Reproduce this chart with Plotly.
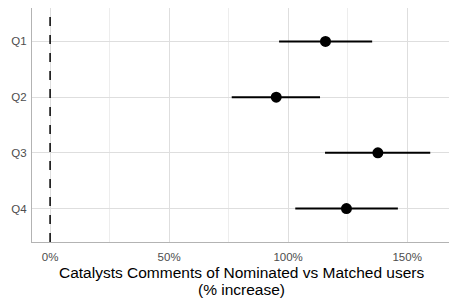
import plotly.graph_objects as go

categories = ["Q1", "Q2", "Q3", "Q4"]
estimate = [115.7, 95.0, 137.7, 124.5]
ci_low = [96.2, 76.3, 115.5, 103.0]
ci_high = [135.3, 113.4, 159.7, 146.1]
tick_vals = [0, 50, 100, 150]
tick_text = ["0%", "50%", "100%", "150%"]
title_lines = ["Catalysts Comments of Nominated vs Matched users", "(% increase)"]

fig = go.Figure()
fig.add_trace(go.Scatter(
    x=estimate, y=categories, mode="markers",
    marker=dict(color="black", size=11),
    error_x=dict(type="data", symmetric=False,
                 array=[h - e for h, e in zip(ci_high, estimate)],
                 arrayminus=[e - l for e, l in zip(estimate, ci_low)],
                 color="black", thickness=2, width=0),
    showlegend=False, cliponaxis=False,
))
fig.add_shape(type="line", xref="x", yref="paper", x0=0, x1=0, y0=0, y1=1,
              line=dict(color="black", width=1.5, dash="dash"))

for i, line in enumerate(title_lines):
    fig.add_annotation(text=line, xref="paper", yref="paper", x=0.5, y=0,
                       yshift=-30 - 17 * i, showarrow=False, xanchor="center", yanchor="middle",
                       font=dict(size=15.5, color="black"))

# page body has an 8px default margin; compensate
fig.update_layout(
    width=449, height=297,
    margin=dict(l=24, r=7, t=0, b=62.5, autoexpand=False),
    plot_bgcolor="white", paper_bgcolor="white",
    font=dict(family="Liberation Sans, Arial, sans-serif", color="black"),
    xaxis=dict(range=[-7.6, 168], tickvals=tick_vals, ticktext=tick_text,
               tickfont=dict(size=11.5, color="#4D4D4D"), automargin=False,
               showgrid=True, gridcolor="#DEDEDE", gridwidth=1,
               minor=dict(tickvals=[25, 75, 125], showgrid=True, gridcolor="#EDEDED", gridwidth=0.6),
               zeroline=False, showline=True, linecolor="#B3B3B3", mirror=True, linewidth=1,
               ticks="outside", ticklen=4, tickcolor="rgba(0,0,0,0)"),
    yaxis=dict(type="category", categoryorder="array", categoryarray=categories,
               range=[3.6, -0.6], tickfont=dict(size=11.5, color="#4D4D4D"), automargin=False,
               showgrid=True, gridcolor="#DEDEDE", gridwidth=1,
               zeroline=False, showline=True, linecolor="#B3B3B3", mirror=True, linewidth=1,
               ticks="outside", ticklen=2, tickcolor="rgba(0,0,0,0)"),
)
fig.write_html("out.html")
